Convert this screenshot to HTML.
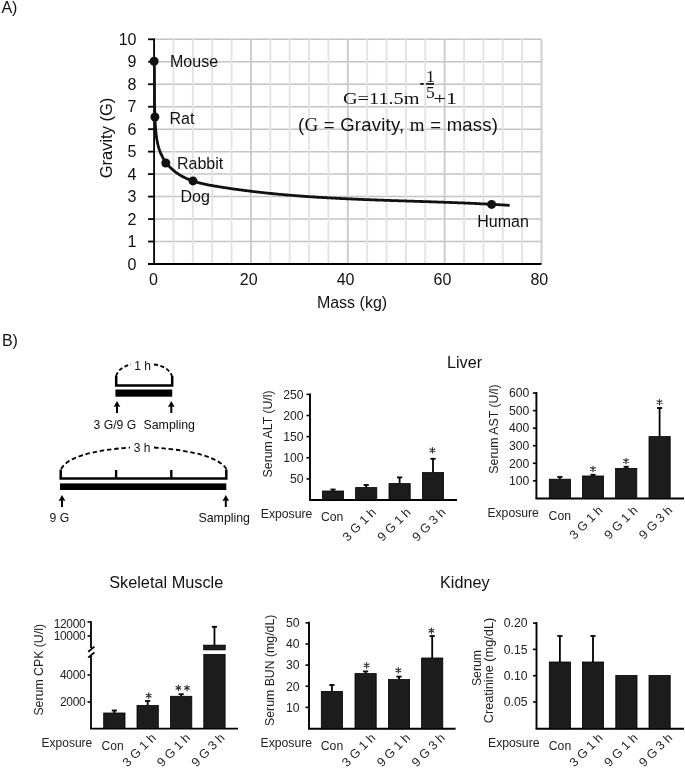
<!DOCTYPE html>
<html><head><meta charset="utf-8"><style>
html,body{margin:0;padding:0;background:#fff;}
body{width:685px;height:768px;overflow:hidden;}
svg{display:block;font-family:"Liberation Sans",sans-serif;will-change:transform;}
</style></head><body>
<svg width="685" height="768" viewBox="0 0 685 768" font-family="Liberation Sans, sans-serif" fill="#111">
<rect width="685" height="768" fill="#fff"/>
<line x1="154.1" y1="241.53" x2="541.50" y2="241.53" stroke="#c4c4c4" stroke-width="1.5"/>
<line x1="154.1" y1="219.06" x2="541.50" y2="219.06" stroke="#c4c4c4" stroke-width="1.5"/>
<line x1="154.1" y1="196.59" x2="541.50" y2="196.59" stroke="#c4c4c4" stroke-width="1.5"/>
<line x1="154.1" y1="174.12" x2="541.50" y2="174.12" stroke="#c4c4c4" stroke-width="1.5"/>
<line x1="154.1" y1="151.65" x2="541.50" y2="151.65" stroke="#c4c4c4" stroke-width="1.5"/>
<line x1="154.1" y1="129.18" x2="541.50" y2="129.18" stroke="#c4c4c4" stroke-width="1.5"/>
<line x1="154.1" y1="106.71" x2="541.50" y2="106.71" stroke="#c4c4c4" stroke-width="1.5"/>
<line x1="154.1" y1="84.24" x2="541.50" y2="84.24" stroke="#c4c4c4" stroke-width="1.5"/>
<line x1="154.1" y1="61.77" x2="541.50" y2="61.77" stroke="#c4c4c4" stroke-width="1.5"/>
<line x1="154.1" y1="39.30" x2="541.50" y2="39.30" stroke="#c4c4c4" stroke-width="1.5"/>
<line x1="173.47" y1="39.30" x2="173.47" y2="264" stroke="#e4e4e4" stroke-width="1.9"/>
<line x1="192.84" y1="39.30" x2="192.84" y2="264" stroke="#e4e4e4" stroke-width="1.9"/>
<line x1="212.21" y1="39.30" x2="212.21" y2="264" stroke="#e4e4e4" stroke-width="1.9"/>
<line x1="231.58" y1="39.30" x2="231.58" y2="264" stroke="#e4e4e4" stroke-width="1.9"/>
<line x1="250.95" y1="39.30" x2="250.95" y2="264" stroke="#cbcbcb" stroke-width="1.9"/>
<line x1="270.32" y1="39.30" x2="270.32" y2="264" stroke="#e4e4e4" stroke-width="1.9"/>
<line x1="289.69" y1="39.30" x2="289.69" y2="264" stroke="#e4e4e4" stroke-width="1.9"/>
<line x1="309.06" y1="39.30" x2="309.06" y2="264" stroke="#e4e4e4" stroke-width="1.9"/>
<line x1="328.43" y1="39.30" x2="328.43" y2="264" stroke="#e4e4e4" stroke-width="1.9"/>
<line x1="347.80" y1="39.30" x2="347.80" y2="264" stroke="#cbcbcb" stroke-width="1.9"/>
<line x1="367.17" y1="39.30" x2="367.17" y2="264" stroke="#e4e4e4" stroke-width="1.9"/>
<line x1="386.54" y1="39.30" x2="386.54" y2="264" stroke="#e4e4e4" stroke-width="1.9"/>
<line x1="405.91" y1="39.30" x2="405.91" y2="264" stroke="#e4e4e4" stroke-width="1.9"/>
<line x1="425.28" y1="39.30" x2="425.28" y2="264" stroke="#e4e4e4" stroke-width="1.9"/>
<line x1="444.65" y1="39.30" x2="444.65" y2="264" stroke="#cbcbcb" stroke-width="1.9"/>
<line x1="464.02" y1="39.30" x2="464.02" y2="264" stroke="#e4e4e4" stroke-width="1.9"/>
<line x1="483.39" y1="39.30" x2="483.39" y2="264" stroke="#e4e4e4" stroke-width="1.9"/>
<line x1="502.76" y1="39.30" x2="502.76" y2="264" stroke="#e4e4e4" stroke-width="1.9"/>
<line x1="522.13" y1="39.30" x2="522.13" y2="264" stroke="#e4e4e4" stroke-width="1.9"/>
<line x1="541.50" y1="39.30" x2="541.50" y2="264" stroke="#cbcbcb" stroke-width="1.9"/>
<line x1="154.1" y1="38.40" x2="154.1" y2="264" stroke="#000" stroke-width="1.8"/>
<line x1="148.1" y1="264" x2="541.50" y2="264" stroke="#000" stroke-width="1.8"/>
<line x1="148.1" y1="264.00" x2="154.1" y2="264.00" stroke="#000" stroke-width="1.8"/>
<text x="136.5" y="269.60" text-anchor="end" font-size="16">0</text>
<line x1="148.1" y1="241.53" x2="154.1" y2="241.53" stroke="#000" stroke-width="1.8"/>
<text x="136.5" y="247.13" text-anchor="end" font-size="16">1</text>
<line x1="148.1" y1="219.06" x2="154.1" y2="219.06" stroke="#000" stroke-width="1.8"/>
<text x="136.5" y="224.66" text-anchor="end" font-size="16">2</text>
<line x1="148.1" y1="196.59" x2="154.1" y2="196.59" stroke="#000" stroke-width="1.8"/>
<text x="136.5" y="202.19" text-anchor="end" font-size="16">3</text>
<line x1="148.1" y1="174.12" x2="154.1" y2="174.12" stroke="#000" stroke-width="1.8"/>
<text x="136.5" y="179.72" text-anchor="end" font-size="16">4</text>
<line x1="148.1" y1="151.65" x2="154.1" y2="151.65" stroke="#000" stroke-width="1.8"/>
<text x="136.5" y="157.25" text-anchor="end" font-size="16">5</text>
<line x1="148.1" y1="129.18" x2="154.1" y2="129.18" stroke="#000" stroke-width="1.8"/>
<text x="136.5" y="134.78" text-anchor="end" font-size="16">6</text>
<line x1="148.1" y1="106.71" x2="154.1" y2="106.71" stroke="#000" stroke-width="1.8"/>
<text x="136.5" y="112.31" text-anchor="end" font-size="16">7</text>
<line x1="148.1" y1="84.24" x2="154.1" y2="84.24" stroke="#000" stroke-width="1.8"/>
<text x="136.5" y="89.84" text-anchor="end" font-size="16">8</text>
<line x1="148.1" y1="61.77" x2="154.1" y2="61.77" stroke="#000" stroke-width="1.8"/>
<text x="136.5" y="67.37" text-anchor="end" font-size="16">9</text>
<line x1="148.1" y1="39.30" x2="154.1" y2="39.30" stroke="#000" stroke-width="1.8"/>
<text x="136.5" y="44.90" text-anchor="end" font-size="16">10</text>
<text x="153.50" y="285" text-anchor="middle" font-size="16">0</text>
<text x="248.75" y="285" text-anchor="middle" font-size="16">20</text>
<text x="345.60" y="285" text-anchor="middle" font-size="16">40</text>
<text x="442.45" y="285" text-anchor="middle" font-size="16">60</text>
<text x="539.30" y="285" text-anchor="middle" font-size="16">80</text>
<text x="352" y="307.5" text-anchor="middle" font-size="16">Mass (kg)</text>
<text transform="translate(112.2,138) rotate(-90)" text-anchor="middle" font-size="16.5">Gravity (G)</text>
<path d="M154.20,61.20 L154.23,62.34 L154.27,63.47 L154.30,64.61 L154.33,65.75 L154.35,66.89 L154.38,68.02 L154.40,69.16 L154.41,70.30 L154.43,71.43 L154.44,72.57 L154.46,73.71 L154.47,74.84 L154.47,75.98 L154.48,77.12 L154.49,78.25 L154.49,79.39 L154.50,80.52 L154.50,81.66 L154.50,82.80 L154.50,83.93 L154.50,85.07 L154.50,86.20 L154.50,87.34 L154.50,88.48 L154.50,89.61 L154.50,90.75 L154.50,91.88 L154.51,93.02 L154.51,94.15 L154.51,95.29 L154.51,96.43 L154.52,97.56 L154.52,98.70 L154.53,99.83 L154.54,100.97 L154.55,102.10 L154.56,103.24 L154.58,104.37 L154.59,105.51 L154.61,106.64 L154.63,107.78 L154.66,108.91 L154.68,110.05 L154.71,111.18 L154.74,112.32 L154.78,113.45 L154.82,114.59 L154.86,115.72 L154.90,116.85 L154.95,117.99 L155.00,119.12 L155.06,120.26 L155.12,121.39 L155.18,122.53 L155.25,123.66 L155.33,124.79 L155.40,125.93 L155.49,127.06 L155.58,128.20 L155.67,129.33 L155.77,130.46 L155.87,131.60 L155.98,132.73 L156.10,133.86 L156.23,134.99 L156.37,136.12 L156.52,137.25 L156.68,138.37 L156.86,139.49 L157.05,140.61 L157.26,141.72 L157.49,142.83 L157.73,143.94 L157.99,145.04 L158.27,146.13 L158.58,147.22 L158.90,148.31 L159.25,149.39 L159.62,150.46 L160.02,151.52 L160.44,152.58 L160.89,153.62 L161.36,154.66 L161.85,155.69 L162.37,156.70 L162.92,157.71 L163.49,158.70 L164.09,159.68 L164.72,160.64 L165.37,161.59 L166.05,162.53 L166.75,163.45 L167.48,164.35 L168.24,165.23 L169.02,166.10 L169.82,166.95 L170.63,167.77 L171.47,168.58 L172.33,169.36 L173.19,170.12 L174.08,170.86 L174.97,171.58 L175.87,172.27 L176.79,172.93 L177.72,173.58 L178.65,174.20 L179.60,174.80 L180.56,175.38 L181.53,175.94 L182.50,176.48 L183.49,177.00 L184.48,177.50 L185.49,177.98 L186.50,178.45 L187.52,178.89 L188.54,179.33 L189.58,179.74 L190.62,180.14 L191.67,180.52 L192.73,180.89 L193.79,181.25 L194.86,181.59 L195.93,181.92 L197.01,182.24 L198.09,182.54 L199.18,182.84 L200.28,183.12 L201.38,183.39 L202.48,183.65 L203.59,183.91 L204.70,184.15 L205.81,184.39 L206.93,184.62 L208.04,184.84 L209.17,185.06 L210.29,185.27 L211.42,185.48 L212.54,185.68 L213.67,185.87 L214.80,186.06 L215.93,186.25 L217.06,186.44 L218.19,186.62 L219.33,186.81 L220.46,186.99 L221.59,187.17 L222.72,187.34 L223.85,187.52 L224.98,187.69 L226.11,187.87 L227.25,188.04 L228.38,188.21 L229.51,188.37 L230.64,188.54 L231.77,188.70 L232.90,188.87 L234.03,189.03 L235.17,189.19 L236.30,189.34 L237.43,189.50 L238.56,189.65 L239.69,189.81 L240.82,189.96 L241.96,190.11 L243.09,190.26 L244.22,190.41 L245.35,190.55 L246.48,190.70 L247.62,190.84 L248.75,190.98 L249.88,191.12 L251.01,191.26 L252.14,191.39 L253.27,191.53 L254.41,191.66 L255.54,191.80 L256.67,191.93 L257.80,192.06 L258.93,192.19 L260.07,192.31 L261.20,192.44 L262.33,192.56 L263.46,192.69 L264.59,192.81 L265.73,192.93 L266.86,193.05 L267.99,193.17 L269.12,193.28 L270.26,193.40 L271.39,193.51 L272.52,193.63 L273.65,193.74 L274.78,193.85 L275.92,193.96 L277.05,194.06 L278.18,194.17 L279.31,194.28 L280.45,194.38 L281.58,194.48 L282.71,194.59 L283.84,194.69 L284.98,194.79 L286.11,194.89 L287.24,194.98 L288.37,195.08 L289.51,195.17 L290.64,195.27 L291.77,195.36 L292.90,195.45 L294.04,195.55 L295.17,195.64 L296.30,195.72 L297.44,195.81 L298.57,195.90 L299.70,195.99 L300.83,196.07 L301.97,196.15 L303.10,196.24 L304.23,196.32 L305.37,196.40 L306.50,196.48 L307.63,196.56 L308.76,196.64 L309.90,196.71 L311.03,196.79 L312.16,196.87 L313.30,196.94 L314.43,197.01 L315.56,197.09 L316.70,197.16 L317.83,197.23 L318.96,197.30 L320.09,197.37 L321.23,197.44 L322.36,197.51 L323.49,197.57 L324.63,197.64 L325.76,197.71 L326.89,197.77 L328.03,197.83 L329.16,197.90 L330.29,197.96 L331.43,198.02 L332.56,198.08 L333.69,198.14 L334.83,198.20 L335.96,198.26 L337.09,198.32 L338.23,198.38 L339.36,198.44 L340.50,198.49 L341.63,198.55 L342.76,198.60 L343.90,198.66 L345.03,198.71 L346.16,198.76 L347.30,198.82 L348.43,198.87 L349.56,198.92 L350.70,198.97 L351.83,199.02 L352.97,199.07 L354.10,199.12 L355.23,199.17 L356.37,199.22 L357.50,199.27 L358.64,199.31 L359.77,199.36 L360.90,199.41 L362.04,199.45 L363.17,199.50 L364.31,199.54 L365.44,199.59 L366.57,199.63 L367.71,199.68 L368.84,199.72 L369.98,199.76 L371.11,199.81 L372.24,199.85 L373.38,199.89 L374.51,199.93 L375.65,199.98 L376.78,200.02 L377.92,200.06 L379.05,200.10 L380.18,200.14 L381.32,200.18 L382.45,200.22 L383.59,200.26 L384.72,200.30 L385.86,200.34 L386.99,200.37 L388.13,200.41 L389.26,200.45 L390.40,200.49 L391.53,200.53 L392.66,200.56 L393.80,200.60 L394.93,200.64 L396.07,200.68 L397.20,200.71 L398.34,200.75 L399.47,200.79 L400.61,200.82 L401.74,200.86 L402.88,200.90 L404.01,200.93 L405.15,200.97 L406.28,201.01 L407.42,201.04 L408.55,201.08 L409.69,201.12 L410.82,201.15 L411.96,201.19 L413.09,201.22 L414.23,201.26 L415.36,201.30 L416.50,201.33 L417.63,201.37 L418.77,201.41 L419.90,201.44 L421.04,201.48 L422.17,201.51 L423.31,201.55 L424.44,201.59 L425.58,201.62 L426.71,201.66 L427.85,201.70 L428.99,201.74 L430.12,201.77 L431.26,201.81 L432.39,201.85 L433.53,201.89 L434.66,201.93 L435.80,201.96 L436.93,202.00 L438.07,202.04 L439.21,202.08 L440.34,202.12 L441.48,202.16 L442.61,202.20 L443.75,202.24 L444.88,202.28 L446.02,202.32 L447.16,202.36 L448.29,202.40 L449.43,202.44 L450.56,202.49 L451.70,202.53 L452.83,202.57 L453.97,202.61 L455.11,202.66 L456.24,202.70 L457.38,202.75 L458.51,202.79 L459.65,202.84 L460.79,202.88 L461.92,202.93 L463.06,202.97 L464.20,203.02 L465.33,203.07 L466.47,203.11 L467.60,203.16 L468.74,203.21 L469.88,203.26 L471.01,203.31 L472.15,203.36 L473.29,203.41 L474.42,203.46 L475.56,203.51 L476.69,203.57 L477.83,203.62 L478.97,203.67 L480.10,203.73 L481.24,203.78 L482.38,203.84 L483.51,203.89 L484.65,203.95 L485.79,204.01 L486.92,204.07 L488.06,204.13 L489.20,204.19 L490.33,204.25 L491.47,204.31 L492.61,204.37 L493.74,204.43 L494.88,204.49 L496.02,204.56 L497.16,204.62 L498.29,204.69 L499.43,204.75 L500.57,204.82 L501.70,204.89 L502.84,204.95 L503.98,205.02 L505.11,205.09 L506.25,205.16 L507.39,205.24 L508.53,205.31" fill="none" stroke="#111" stroke-width="2.8" stroke-linejoin="round" stroke-linecap="round"/>
<circle cx="154.1" cy="61.2" r="4.5" fill="#111"/>
<circle cx="154.9" cy="117" r="4.5" fill="#111"/>
<circle cx="165.8" cy="163" r="4.5" fill="#111"/>
<circle cx="193" cy="180.9" r="4.5" fill="#111"/>
<circle cx="491.6" cy="204.4" r="4.5" fill="#111"/>
<text x="170" y="66.5" font-size="16">Mouse</text>
<text x="169.5" y="124.2" font-size="16">Rat</text>
<text x="177" y="168.5" font-size="16">Rabbit</text>
<text x="180.5" y="201.8" font-size="16">Dog</text>
<text x="477.3" y="227.3" font-size="16">Human</text>
<text x="343" y="104.1" font-size="17.5" font-family="Liberation Serif, serif" textLength="76.5" lengthAdjust="spacingAndGlyphs">G=11.5m</text>
<line x1="420.2" y1="83.9" x2="423.8" y2="83.9" stroke="#111" stroke-width="1.7"/>
<text x="426" y="81.9" font-size="17.5" font-family="Liberation Serif, serif">1</text>
<line x1="425.9" y1="83.9" x2="434" y2="83.9" stroke="#111" stroke-width="1.7"/>
<text x="426" y="98.3" font-size="17.5" font-family="Liberation Serif, serif">5</text>
<text x="433.5" y="104.3" font-size="17.5" font-family="Liberation Serif, serif" textLength="23.5" lengthAdjust="spacingAndGlyphs">+1</text>
<text x="298" y="131" font-size="18.5" textLength="200" lengthAdjust="spacing">(<tspan font-family="Liberation Serif, serif" font-size="19">G</tspan> = Gravity, <tspan font-family="Liberation Serif, serif" font-size="19">m</tspan> = mass)</text>
<text x="1.4" y="12.8" font-size="16">A)</text>
<text x="1.9" y="346.4" font-size="16">B)</text>
<path d="M116.2,376 L116.2,385.4 L172.2,385.4 L172.2,376" fill="none" stroke="#000" stroke-width="2.5"/>
<rect x="115.4" y="389.5" width="56.8" height="7.2" fill="#000"/>
<path d="M116,376 Q119,367 131,364.5" fill="none" stroke="#000" stroke-width="1.8" stroke-dasharray="4,2.5"/>
<path d="M154,364.5 Q168,366 172,376" fill="none" stroke="#000" stroke-width="1.8" stroke-dasharray="4,2.5"/>
<text x="142.5" y="370" text-anchor="middle" font-size="12">1 h</text>
<line x1="117" y1="406" x2="117" y2="413" stroke="#000" stroke-width="2"/><path d="M113.6,407 L117,401 L120.4,407 L117,406.2 Z" fill="#000"/>
<line x1="171.3" y1="406" x2="171.3" y2="413" stroke="#000" stroke-width="2"/><path d="M167.9,407 L171.3,401 L174.70000000000002,407 L171.3,406.2 Z" fill="#000"/>
<text x="93.5" y="428.5" font-size="12.2">3 G/9 G</text>
<text x="143.5" y="428.5" font-size="12.35">Sampling</text>
<path d="M60.7,469.5 L60.7,478.6 L226.3,478.6 L226.3,469.5" fill="none" stroke="#000" stroke-width="2.5"/><line x1="116.1" y1="470.0" x2="116.1" y2="478.6" stroke="#000" stroke-width="2.4"/><line x1="171.3" y1="470.0" x2="171.3" y2="478.6" stroke="#000" stroke-width="2.4"/>
<rect x="60" y="483.4" width="166.3" height="6.6" fill="#000"/>
<path d="M61.2,469 Q70,452 130,447.5" fill="none" stroke="#000" stroke-width="1.8" stroke-dasharray="4.5,2.8"/>
<path d="M154,447.5 Q215,452 226.5,469" fill="none" stroke="#000" stroke-width="1.8" stroke-dasharray="4.5,2.8"/>
<text x="142" y="452" text-anchor="middle" font-size="12">3 h</text>
<line x1="62" y1="500" x2="62" y2="507" stroke="#000" stroke-width="2"/><path d="M58.6,501 L62,495 L65.4,501 L62,500.2 Z" fill="#000"/>
<line x1="225.8" y1="500" x2="225.8" y2="507" stroke="#000" stroke-width="2"/><path d="M222.4,501 L225.8,495 L229.20000000000002,501 L225.8,500.2 Z" fill="#000"/>
<text x="49.5" y="521.6" font-size="12.2">9 G</text>
<text x="198.5" y="521.6" font-size="12.35">Sampling</text>
<line x1="310" y1="393.5" x2="310" y2="500" stroke="#000" stroke-width="1.9"/><line x1="309.1" y1="500" x2="457" y2="500" stroke="#000" stroke-width="1.9"/><line x1="306.5" y1="478.88" x2="310" y2="478.88" stroke="#000" stroke-width="1.6"/><text x="303.5" y="483.18" text-anchor="end" font-size="12.2" fill="#222">50</text><line x1="306.5" y1="457.76" x2="310" y2="457.76" stroke="#000" stroke-width="1.6"/><text x="303.5" y="462.06" text-anchor="end" font-size="12.2" fill="#222">100</text><line x1="306.5" y1="436.64" x2="310" y2="436.64" stroke="#000" stroke-width="1.6"/><text x="303.5" y="440.94" text-anchor="end" font-size="12.2" fill="#222">150</text><line x1="306.5" y1="415.52" x2="310" y2="415.52" stroke="#000" stroke-width="1.6"/><text x="303.5" y="419.82" text-anchor="end" font-size="12.2" fill="#222">200</text><line x1="306.5" y1="394.40" x2="310" y2="394.40" stroke="#000" stroke-width="1.6"/><text x="303.5" y="398.70" text-anchor="end" font-size="12.2" fill="#222">250</text><line x1="333.0" y1="489.5" x2="333.0" y2="491" stroke="#000" stroke-width="1.8"/><line x1="330.4" y1="489.5" x2="335.6" y2="489.5" stroke="#000" stroke-width="1.8"/><rect x="322.4" y="491" width="21.2" height="9.00" fill="#1c1c1c" stroke="#000" stroke-width="0.8"/><line x1="366.20000000000005" y1="485" x2="366.20000000000005" y2="487.6" stroke="#000" stroke-width="1.8"/><line x1="363.6" y1="485" x2="368.80000000000007" y2="485" stroke="#000" stroke-width="1.8"/><rect x="355.6" y="487.6" width="21.2" height="12.40" fill="#1c1c1c" stroke="#000" stroke-width="0.8"/><line x1="399.6" y1="477.4" x2="399.6" y2="483.6" stroke="#000" stroke-width="1.8"/><line x1="397.0" y1="477.4" x2="402.20000000000005" y2="477.4" stroke="#000" stroke-width="1.8"/><rect x="389" y="483.6" width="21.2" height="16.40" fill="#1c1c1c" stroke="#000" stroke-width="0.8"/><line x1="433.0" y1="458.8" x2="433.0" y2="472.6" stroke="#000" stroke-width="1.8"/><line x1="430.4" y1="458.8" x2="435.6" y2="458.8" stroke="#000" stroke-width="1.8"/><rect x="422.4" y="472.6" width="21.2" height="27.40" fill="#1c1c1c" stroke="#000" stroke-width="0.8"/><path d="M432.40,447.55L432.40,453.05M430.02,448.93L434.78,451.68M430.02,451.68L434.78,448.93" stroke="#333" stroke-width="1.15" stroke-linecap="round" fill="none"/><text transform="translate(272.3,433.9) rotate(-90)" text-anchor="middle" font-size="12.3" fill="#222">Serum ALT (U/l)</text><text x="260.8" y="518.4" font-size="12.2" fill="#222">Exposure</text><text x="321" y="521" font-size="12.2" fill="#222">Con</text><text transform="translate(376.7,513) rotate(-45)" text-anchor="end" font-size="12.5" fill="#222">3 G 1 h</text><text transform="translate(411.5,513) rotate(-45)" text-anchor="end" font-size="12.5" fill="#222">9 G 1 h</text><text transform="translate(446.3,513) rotate(-45)" text-anchor="end" font-size="12.5" fill="#222">9 G 3 h</text>
<line x1="536.4" y1="392.1" x2="536.4" y2="498.5" stroke="#000" stroke-width="1.9"/><line x1="535.5" y1="498.5" x2="684" y2="498.5" stroke="#000" stroke-width="1.9"/><line x1="532.9" y1="480.84" x2="536.4" y2="480.84" stroke="#000" stroke-width="1.6"/><text x="529.4" y="485.14" text-anchor="end" font-size="12.2" fill="#222">100</text><line x1="532.9" y1="463.28" x2="536.4" y2="463.28" stroke="#000" stroke-width="1.6"/><text x="529.4" y="467.58" text-anchor="end" font-size="12.2" fill="#222">200</text><line x1="532.9" y1="445.72" x2="536.4" y2="445.72" stroke="#000" stroke-width="1.6"/><text x="529.4" y="450.02" text-anchor="end" font-size="12.2" fill="#222">300</text><line x1="532.9" y1="428.16" x2="536.4" y2="428.16" stroke="#000" stroke-width="1.6"/><text x="529.4" y="432.46" text-anchor="end" font-size="12.2" fill="#222">400</text><line x1="532.9" y1="410.60" x2="536.4" y2="410.60" stroke="#000" stroke-width="1.6"/><text x="529.4" y="414.90" text-anchor="end" font-size="12.2" fill="#222">500</text><line x1="532.9" y1="393.04" x2="536.4" y2="393.04" stroke="#000" stroke-width="1.6"/><text x="529.4" y="397.34" text-anchor="end" font-size="12.2" fill="#222">600</text><line x1="559.9" y1="477" x2="559.9" y2="479.2" stroke="#000" stroke-width="1.8"/><line x1="557.3" y1="477" x2="562.5" y2="477" stroke="#000" stroke-width="1.8"/><rect x="549.3" y="479.2" width="21.2" height="19.30" fill="#1c1c1c" stroke="#000" stroke-width="0.8"/><line x1="593.0" y1="474.8" x2="593.0" y2="476" stroke="#000" stroke-width="1.8"/><line x1="590.4" y1="474.8" x2="595.6" y2="474.8" stroke="#000" stroke-width="1.8"/><rect x="582.4" y="476" width="21.2" height="22.50" fill="#1c1c1c" stroke="#000" stroke-width="0.8"/><line x1="626.2" y1="466.8" x2="626.2" y2="468.4" stroke="#000" stroke-width="1.8"/><line x1="623.6" y1="466.8" x2="628.8000000000001" y2="466.8" stroke="#000" stroke-width="1.8"/><rect x="615.6" y="468.4" width="21.2" height="30.10" fill="#1c1c1c" stroke="#000" stroke-width="0.8"/><line x1="659.6" y1="408" x2="659.6" y2="436.6" stroke="#000" stroke-width="1.8"/><line x1="657.0" y1="408" x2="662.2" y2="408" stroke="#000" stroke-width="1.8"/><rect x="649" y="436.6" width="21.2" height="61.90" fill="#1c1c1c" stroke="#000" stroke-width="0.8"/><path d="M593.00,466.25L593.00,471.75M590.62,467.62L595.38,470.38M590.62,470.38L595.38,467.62" stroke="#333" stroke-width="1.15" stroke-linecap="round" fill="none"/><path d="M626.00,458.25L626.00,463.75M623.62,459.62L628.38,462.38M623.62,462.38L628.38,459.62" stroke="#333" stroke-width="1.15" stroke-linecap="round" fill="none"/><path d="M659.50,399.45L659.50,404.95M657.12,400.82L661.88,403.57M657.12,403.57L661.88,400.82" stroke="#333" stroke-width="1.15" stroke-linecap="round" fill="none"/><text transform="translate(498.4,429) rotate(-90)" text-anchor="middle" font-size="12.3" fill="#222">Serum AST (U/l)</text><text x="487.4" y="517.2" font-size="12.2" fill="#222">Exposure</text><text x="548.6" y="520.3" font-size="12.2" fill="#222">Con</text><text transform="translate(603.5,511) rotate(-45)" text-anchor="end" font-size="12.5" fill="#222">3 G 1 h</text><text transform="translate(638.3,511) rotate(-45)" text-anchor="end" font-size="12.5" fill="#222">9 G 1 h</text><text transform="translate(673.1,511) rotate(-45)" text-anchor="end" font-size="12.5" fill="#222">9 G 3 h</text>
<line x1="309" y1="621.7" x2="309" y2="728.7" stroke="#000" stroke-width="1.9"/><line x1="308.1" y1="728.7" x2="455.6" y2="728.7" stroke="#000" stroke-width="1.9"/><line x1="305.5" y1="707.37" x2="309" y2="707.37" stroke="#000" stroke-width="1.6"/><text x="299.5" y="711.67" text-anchor="end" font-size="12.2" fill="#222">10</text><line x1="305.5" y1="686.24" x2="309" y2="686.24" stroke="#000" stroke-width="1.6"/><text x="299.5" y="690.54" text-anchor="end" font-size="12.2" fill="#222">20</text><line x1="305.5" y1="665.11" x2="309" y2="665.11" stroke="#000" stroke-width="1.6"/><text x="299.5" y="669.41" text-anchor="end" font-size="12.2" fill="#222">30</text><line x1="305.5" y1="643.98" x2="309" y2="643.98" stroke="#000" stroke-width="1.6"/><text x="299.5" y="648.28" text-anchor="end" font-size="12.2" fill="#222">40</text><line x1="305.5" y1="622.85" x2="309" y2="622.85" stroke="#000" stroke-width="1.6"/><text x="299.5" y="627.15" text-anchor="end" font-size="12.2" fill="#222">50</text><line x1="331.90000000000003" y1="685" x2="331.90000000000003" y2="691.4" stroke="#000" stroke-width="1.8"/><line x1="329.3" y1="685" x2="334.50000000000006" y2="685" stroke="#000" stroke-width="1.8"/><rect x="321.3" y="691.4" width="21.2" height="37.30" fill="#1c1c1c" stroke="#000" stroke-width="0.8"/><line x1="365.6" y1="671.4" x2="365.6" y2="673.6" stroke="#000" stroke-width="1.8"/><line x1="363.0" y1="671.4" x2="368.20000000000005" y2="671.4" stroke="#000" stroke-width="1.8"/><rect x="355" y="673.6" width="21.2" height="55.10" fill="#1c1c1c" stroke="#000" stroke-width="0.8"/><line x1="399.0" y1="676.6" x2="399.0" y2="679.6" stroke="#000" stroke-width="1.8"/><line x1="396.4" y1="676.6" x2="401.6" y2="676.6" stroke="#000" stroke-width="1.8"/><rect x="388.4" y="679.6" width="21.2" height="49.10" fill="#1c1c1c" stroke="#000" stroke-width="0.8"/><line x1="432.20000000000005" y1="636" x2="432.20000000000005" y2="658" stroke="#000" stroke-width="1.8"/><line x1="429.6" y1="636" x2="434.80000000000007" y2="636" stroke="#000" stroke-width="1.8"/><rect x="421.6" y="658" width="21.2" height="70.70" fill="#1c1c1c" stroke="#000" stroke-width="0.8"/><path d="M366.60,662.65L366.60,668.15M364.22,664.02L368.98,666.77M364.22,666.77L368.98,664.02" stroke="#333" stroke-width="1.15" stroke-linecap="round" fill="none"/><path d="M398.30,667.55L398.30,673.05M395.92,668.92L400.68,671.67M395.92,671.67L400.68,668.92" stroke="#333" stroke-width="1.15" stroke-linecap="round" fill="none"/><path d="M431.40,627.95L431.40,633.45M429.02,629.33L433.78,632.08M429.02,632.08L433.78,629.33" stroke="#333" stroke-width="1.15" stroke-linecap="round" fill="none"/><text transform="translate(274.2,670.3) rotate(-90)" text-anchor="middle" font-size="12.3" fill="#222">Serum BUN (mg/dL)</text><text x="260.6" y="747.2" font-size="12.2" fill="#222">Exposure</text><text x="320.8" y="749.8" font-size="12.2" fill="#222">Con</text><text transform="translate(376.1,738.5) rotate(-45)" text-anchor="end" font-size="12.5" fill="#222">3 G 1 h</text><text transform="translate(410.9,738.5) rotate(-45)" text-anchor="end" font-size="12.5" fill="#222">9 G 1 h</text><text transform="translate(445.7,738.5) rotate(-45)" text-anchor="end" font-size="12.5" fill="#222">9 G 3 h</text>
<line x1="536.5" y1="622.1" x2="536.5" y2="728.8" stroke="#000" stroke-width="1.9"/><line x1="535.6" y1="728.8" x2="684" y2="728.8" stroke="#000" stroke-width="1.9"/><line x1="533.0" y1="702.00" x2="536.5" y2="702.00" stroke="#000" stroke-width="1.6"/><text x="527.5" y="706.30" text-anchor="end" font-size="12.2" fill="#222">0.05</text><line x1="533.0" y1="675.70" x2="536.5" y2="675.70" stroke="#000" stroke-width="1.6"/><text x="527.5" y="680.00" text-anchor="end" font-size="12.2" fill="#222">0.10</text><line x1="533.0" y1="649.40" x2="536.5" y2="649.40" stroke="#000" stroke-width="1.6"/><text x="527.5" y="653.70" text-anchor="end" font-size="12.2" fill="#222">0.15</text><line x1="533.0" y1="623.10" x2="536.5" y2="623.10" stroke="#000" stroke-width="1.6"/><text x="527.5" y="627.40" text-anchor="end" font-size="12.2" fill="#222">0.20</text><line x1="559.9" y1="636" x2="559.9" y2="662" stroke="#000" stroke-width="1.8"/><line x1="557.3" y1="636" x2="562.5" y2="636" stroke="#000" stroke-width="1.8"/><rect x="549.3" y="662" width="21.2" height="66.80" fill="#1c1c1c" stroke="#000" stroke-width="0.8"/><line x1="593.0" y1="636" x2="593.0" y2="662" stroke="#000" stroke-width="1.8"/><line x1="590.4" y1="636" x2="595.6" y2="636" stroke="#000" stroke-width="1.8"/><rect x="582.4" y="662" width="21.2" height="66.80" fill="#1c1c1c" stroke="#000" stroke-width="0.8"/><rect x="615.8" y="675.5" width="21.2" height="53.30" fill="#1c1c1c" stroke="#000" stroke-width="0.8"/><rect x="649" y="675.5" width="21.2" height="53.30" fill="#1c1c1c" stroke="#000" stroke-width="0.8"/><text transform="translate(481.2,668) rotate(-90)" text-anchor="middle" font-size="12.3" fill="#222">Serum</text><text transform="translate(493.2,670.5) rotate(-90)" text-anchor="middle" font-size="12.3" fill="#222" textLength="105.5" lengthAdjust="spacingAndGlyphs">Creatinine (mg/dL)</text><text x="488" y="747.2" font-size="12.2" fill="#222">Exposure</text><text x="548.8" y="749.8" font-size="12.2" fill="#222">Con</text><text transform="translate(603.5,738.5) rotate(-45)" text-anchor="end" font-size="12.5" fill="#222">3 G 1 h</text><text transform="translate(638.3,738.5) rotate(-45)" text-anchor="end" font-size="12.5" fill="#222">9 G 1 h</text><text transform="translate(673.1,738.5) rotate(-45)" text-anchor="end" font-size="12.5" fill="#222">9 G 3 h</text>
<text x="447" y="367.5" font-size="16.2" fill="#111">Liver</text>
<text x="109.2" y="588" font-size="16.3" fill="#111">Skeletal Muscle</text>
<text x="440" y="588" font-size="16.2" fill="#111">Kidney</text>
<line x1="91" y1="621.2" x2="91" y2="648" stroke="#000" stroke-width="1.8"/><line x1="91" y1="655.5" x2="91" y2="728.6" stroke="#000" stroke-width="1.8"/><line x1="88.2" y1="651.8" x2="94.4" y2="646.6" stroke="#000" stroke-width="1.8"/><line x1="88.2" y1="657.6" x2="94.4" y2="652.4" stroke="#000" stroke-width="1.8"/><line x1="90.1" y1="728.6" x2="238" y2="728.6" stroke="#000" stroke-width="1.8"/><line x1="87.5" y1="622" x2="91" y2="622" stroke="#000" stroke-width="1.6"/><text x="85.5" y="627.8" text-anchor="end" font-size="12" fill="#222" letter-spacing="-0.3">12000</text><line x1="87.5" y1="636" x2="91" y2="636" stroke="#000" stroke-width="1.6"/><text x="85.5" y="640.3" text-anchor="end" font-size="12" fill="#222" letter-spacing="-0.3">10000</text><line x1="87.5" y1="675" x2="91" y2="675" stroke="#000" stroke-width="1.6"/><text x="85.5" y="679.3" text-anchor="end" font-size="12" fill="#222" letter-spacing="-0.3">4000</text><line x1="87.5" y1="702" x2="91" y2="702" stroke="#000" stroke-width="1.6"/><text x="85.5" y="706.3" text-anchor="end" font-size="12" fill="#222" letter-spacing="-0.3">2000</text><line x1="114.35000000000001" y1="710.5" x2="114.35000000000001" y2="713" stroke="#000" stroke-width="1.8"/><line x1="111.75000000000001" y1="710.5" x2="116.95" y2="710.5" stroke="#000" stroke-width="1.8"/><rect x="103.7" y="713" width="21.3" height="15.600000000000023" fill="#1c1c1c" stroke="#000" stroke-width="0.8"/><line x1="147.65" y1="701" x2="147.65" y2="705.5" stroke="#000" stroke-width="1.8"/><line x1="145.05" y1="701" x2="150.25" y2="701" stroke="#000" stroke-width="1.8"/><rect x="137" y="705.5" width="21.3" height="23.100000000000023" fill="#1c1c1c" stroke="#000" stroke-width="0.8"/><line x1="181.15" y1="694.2" x2="181.15" y2="696.3" stroke="#000" stroke-width="1.8"/><line x1="178.55" y1="694.2" x2="183.75" y2="694.2" stroke="#000" stroke-width="1.8"/><rect x="170.5" y="696.3" width="21.3" height="32.30000000000007" fill="#1c1c1c" stroke="#000" stroke-width="0.8"/><line x1="214.45000000000002" y1="626.8" x2="214.45000000000002" y2="645" stroke="#000" stroke-width="1.8"/><line x1="211.85000000000002" y1="626.8" x2="217.05" y2="626.8" stroke="#000" stroke-width="1.8"/><rect x="203.4" y="645" width="22.1" height="5" fill="#1c1c1c" stroke="#000" stroke-width="0.5"/><rect x="203.8" y="654.4" width="21.3" height="74.20000000000005" fill="#1c1c1c" stroke="#000" stroke-width="0.8"/><path d="M148.70,692.85L148.70,698.35M146.32,694.23L151.08,696.98M146.32,696.98L151.08,694.23" stroke="#333" stroke-width="1.15" stroke-linecap="round" fill="none"/><path d="M178.40,685.15L178.40,690.65M176.02,686.52L180.78,689.27M176.02,689.27L180.78,686.52" stroke="#333" stroke-width="1.15" stroke-linecap="round" fill="none"/><path d="M187.00,685.15L187.00,690.65M184.62,686.52L189.38,689.27M184.62,689.27L189.38,686.52" stroke="#333" stroke-width="1.15" stroke-linecap="round" fill="none"/><text transform="translate(42.8,669.8) rotate(-90)" text-anchor="middle" font-size="12.3" fill="#222">Serum CPK (U/l)</text><text x="41.6" y="747" font-size="12" fill="#222">Exposure</text><text x="101.6" y="749.6" font-size="12" fill="#222">Con</text><text transform="translate(156.6,738.5) rotate(-45)" text-anchor="end" font-size="12.5" fill="#222">3 G 1 h</text><text transform="translate(191.0,738.5) rotate(-45)" text-anchor="end" font-size="12.5" fill="#222">9 G 1 h</text><text transform="translate(225.4,738.5) rotate(-45)" text-anchor="end" font-size="12.5" fill="#222">9 G 3 h</text>
</svg></body></html>
